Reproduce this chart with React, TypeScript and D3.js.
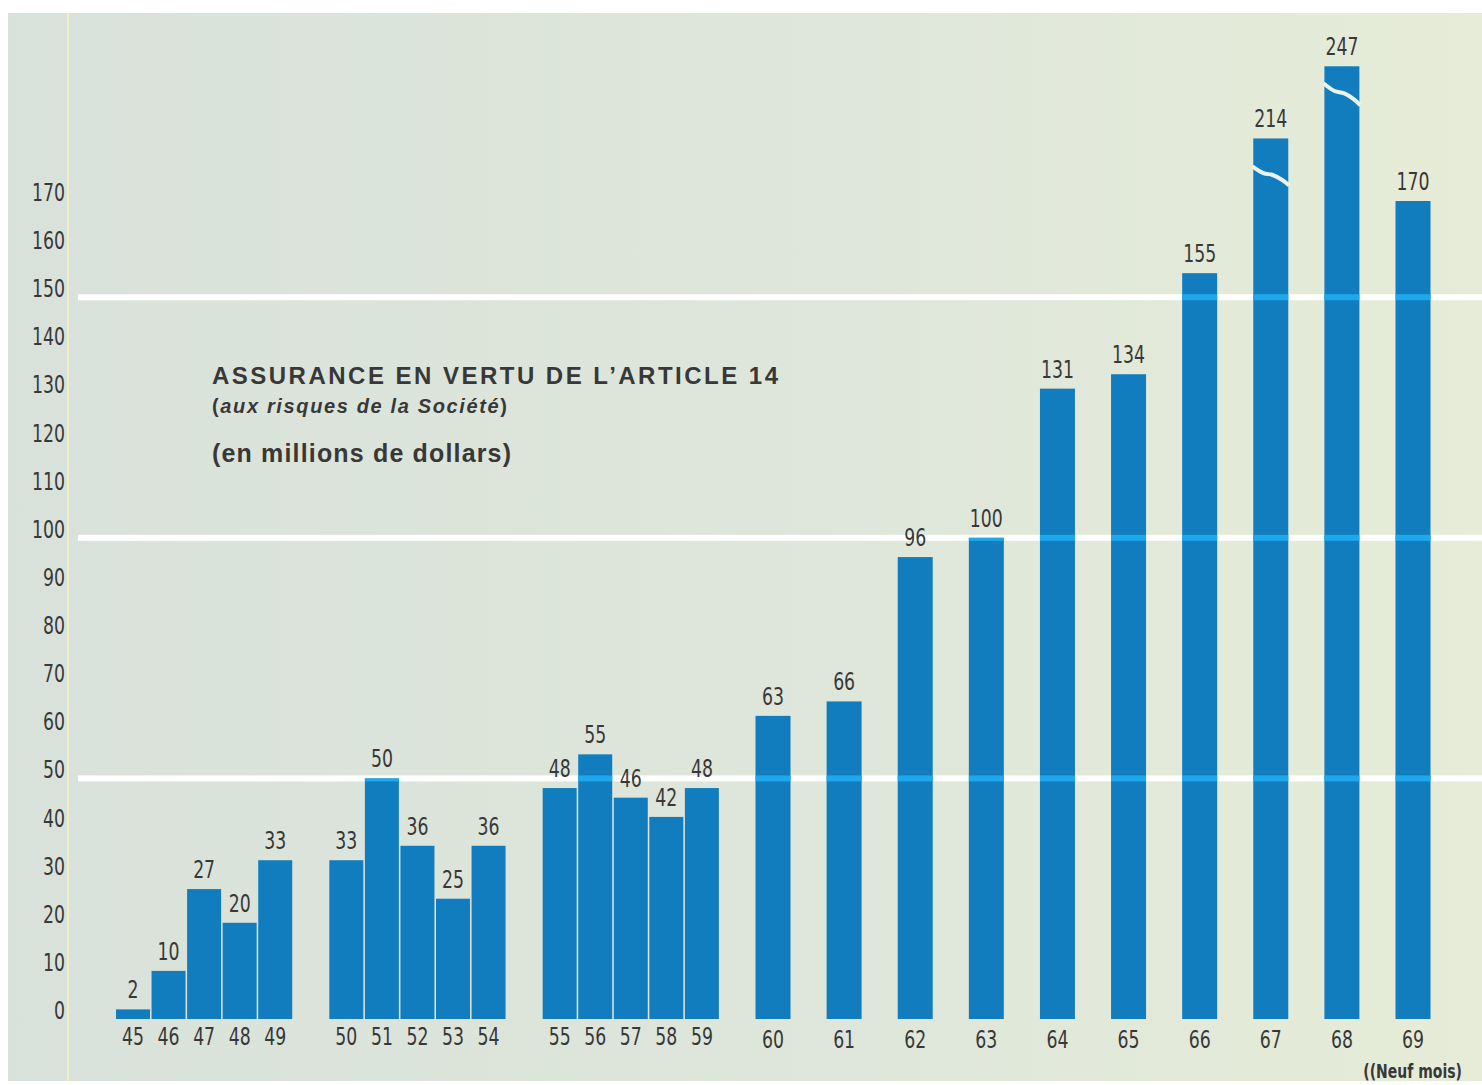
import React from "react";
import * as d3 from "d3";

// ---- data ----
const yearGroups: string[][] = [
  ["45", "46", "47", "48", "49"],
  ["50", "51", "52", "53", "54"],
  ["55", "56", "57", "58", "59"],
  ["60"], ["61"], ["62"], ["63"], ["64"], ["65"], ["66"], ["67"], ["68"], ["69"],
];
const values: number[] = [
  2, 10, 27, 20, 33,
  33, 50, 36, 25, 36,
  48, 55, 46, 42, 48,
  63, 66, 96, 100, 131, 134, 155, 214, 247, 170,
];
// bars whose drawn height is cut (value shown above a broken bar)
const brokenYears: string[] = ["67", "68"];
const brokenShownTop: number[] = [183, 198];
const yTicks: number[] = d3.range(0, 171, 10);
const gridValues: number[] = [50, 100, 150];
const title = "ASSURANCE EN VERTU DE L\u2019ARTICLE 14";
const subtitleItalic = "aux risques de la Soci\u00e9t\u00e9";
const unitsLabel = "(en millions de dollars)";
const footNote = "((Neuf mois)";

const W = 1482;
const H = 1085;
const BLUE = "#127dbe";
const TEXT = "#383838";
const NUM_FONT = "'Liberation Sans Narrow', 'DejaVu Sans Condensed', 'Roboto Condensed', Arial, sans-serif";
const SANS = "'Liberation Sans', Arial, Helvetica, sans-serif";

type Bar = { year: string; value: number; slot: number; single: boolean; shown: number; brokenIdx: number };

function buildBars(): Bar[] {
  const bars: Bar[] = [];
  let slot = 0;
  let k = 0;
  yearGroups.forEach((g, gi) => {
    if (gi > 0) slot += 2;
    g.forEach((yr, i) => {
      if (i > 0) slot += 1;
      const bi = brokenYears.indexOf(yr);
      bars.push({
        year: yr,
        value: values[k],
        slot,
        single: g.length === 1,
        shown: bi >= 0 ? brokenShownTop[bi] : values[k],
        brokenIdx: bi,
      });
      k++;
    });
  });
  return bars;
}

function Num(props: { x: number; y: number; anchor: string; size?: number; sx?: number; weight?: string; children: any }) {
  const { x, y, anchor, size = 24, sx = 0.8, weight = "normal", children } = props;
  return (
    <text
      transform={`translate(${x},${y}) scale(${sx},1)`}
      textAnchor={anchor}
      fontFamily={NUM_FONT}
      fontSize={size}
      fontWeight={weight}
      fill={TEXT}
    >
      {children}
    </text>
  );
}

export default function App() {
  const bars = buildBars();
  const maxSlot = d3.max(bars, (b) => b.slot) as number;
  const x = d3.scaleLinear().domain([0, maxSlot]).range([133, 1413]);
  const y = d3.scaleLinear().domain([0, 170]).range([1019, 201]);
  const bw = (b: Bar) => (b.single ? 35 : 34);

  const breakOffsets = [[28, 47], [17, 39]];
  const breakPath = (b: Bar) => {
    const x0 = x(b.slot) - bw(b) / 2 - 1;
    const x1 = x(b.slot) + bw(b) / 2 + 1;
    const top = y(b.shown);
    const [o0, o1] = breakOffsets[b.brokenIdx];
    const w = x1 - x0;
    const d = o1 - o0;
    const pts: [number, number][] = [
      [x0, top + o0],
      [x0 + w * 0.3, top + o0 + d * 0.35],
      [x0 + w * 0.55, top + o0 + d * 0.45],
      [x0 + w * 0.8, top + o0 + d * 0.7],
      [x1, top + o1],
    ];
    return d3.line().curve(d3.curveCatmullRom)(pts) as string;
  };

  return (
    <svg
      width={W}
      height={H}
      style={{ position: "absolute", left: 0, top: 0, background: "#fff" }}
    >
      <defs>
        <linearGradient id="bg" x1="0" x2="1" y1="0" y2="0">
          <stop offset="0" stopColor="#d9e2da" />
          <stop offset="0.6" stopColor="#dfe7db" />
          <stop offset="1" stopColor="#e6ecd7" />
        </linearGradient>
        <clipPath id="barsClip">
          {bars.map((b) => (
            <rect key={b.year} x={x(b.slot) - bw(b) / 2} y={y(b.shown)} width={bw(b)} height={y(0) - y(b.shown)} />
          ))}
        </clipPath>
      </defs>
      <rect x={8} y={13} width={W - 8} height={1068} fill="url(#bg)" />
      <line x1={68} x2={68} y1={13} y2={1081} stroke="#eef0c4" strokeWidth={2} />

      {/* white reference lines */}
      {gridValues.map((v) => (
        <rect key={v} x={78} y={y(v) - 3} width={W - 78} height={6} fill="#ffffff" />
      ))}

      {/* y tick labels */}
      {yTicks.map((t) => (
        <Num key={t} x={65} y={y(t)} anchor="end">{t}</Num>
      ))}

      {/* bars */}
      {bars.map((b) => (
        <rect
          key={b.year}
          x={x(b.slot) - bw(b) / 2}
          y={y(b.shown)}
          width={bw(b)}
          height={y(0) - y(b.shown)}
          fill={BLUE}
        />
      ))}
      {/* lighter band where the white lines cross the bars */}
      <g clipPath="url(#barsClip)">
        {gridValues.map((v) => (
          <rect key={v} x={78} y={y(v) - 3} width={W - 78} height={6} fill="#1ea8ec" />
        ))}
      </g>
      {/* breaks */}
      {bars
        .filter((b) => b.brokenIdx >= 0)
        .map((b) => (
          <path key={b.year} d={breakPath(b)} fill="none" stroke="#eef3ea" strokeWidth={4} />
        ))}

      {/* value labels */}
      {bars.map((b) => (
        <Num key={b.year} x={x(b.slot)} y={y(b.shown) - 11} anchor="middle">{b.value}</Num>
      ))}

      {/* year labels */}
      {bars.map((b) => (
        <Num key={b.year} x={x(b.slot)} y={b.single ? 1048 : 1045} anchor="middle">{b.year}</Num>
      ))}
      <Num x={1462} y={1078} anchor="end" size={19} sx={0.82} weight="bold">{footNote}</Num>

      {/* titles */}
      <text x={212} y={384} fontFamily={SANS} fontSize={24} fontWeight="bold" fill={TEXT} textLength={566} lengthAdjust="spacing">
        {title}
      </text>
      <text x={212} y={413} fontFamily={SANS} fontSize={20} fontWeight="bold" fill={TEXT} textLength={295} lengthAdjust="spacing">
        (<tspan fontStyle="italic">{subtitleItalic}</tspan>)
      </text>
      <text x={212} y={462} fontFamily={SANS} fontSize={25} fontWeight="bold" fill={TEXT} textLength={299} lengthAdjust="spacing">
        {unitsLabel}
      </text>
    </svg>
  );
}
